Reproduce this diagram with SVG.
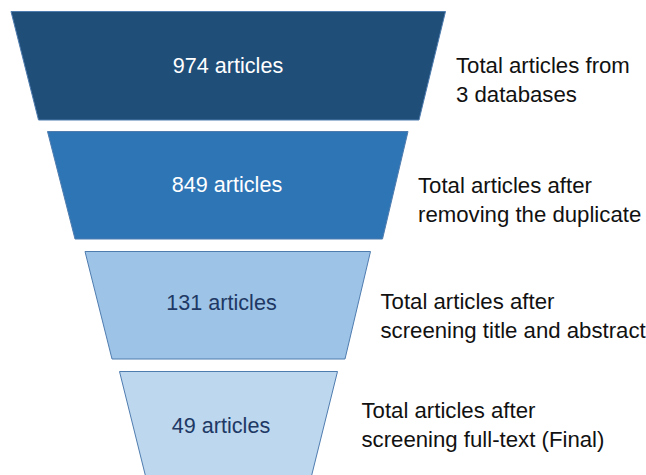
<svg xmlns="http://www.w3.org/2000/svg" width="646" height="475" viewBox="0 0 646 475">
  <style>
    .stage { stroke: #4F7CAF; stroke-width: 1; }
    .s1 { fill: #1F4E79; }
    .s2 { fill: #2E75B6; }
    .s3 { fill: #9DC3E6; }
    .s4 { fill: #BDD7EE; }
    .count { font-family: "Liberation Sans", Arial, sans-serif; font-size: 21.6px; text-anchor: middle; }
    .light { fill: #FFFFFF; }
    .dark { fill: #203864; }
    .note { font-family: "Liberation Sans", Arial, sans-serif; font-size: 22.2px; fill: #111111; }
  </style>
  <rect width="646" height="475" fill="#FFFFFF"/>

  <g id="stage-1">
    <polygon class="stage s1" points="11,11.5 445.5,11.5 419,120 38.5,120"/>
    <text class="count light" x="228" y="73">974 articles</text>
  </g>

  <g id="stage-2">
    <polygon class="stage s2" points="47.5,131.5 408,131.5 382.5,239 75,239"/>
    <text class="count light" x="227" y="192">849 articles</text>
  </g>

  <g id="stage-3">
    <polygon class="stage s3" points="85,251.5 370.5,251.5 345,359 112,359"/>
    <text class="count dark" x="221.5" y="310">131 articles</text>
  </g>

  <g id="stage-4">
    <polygon class="stage s4" points="119.5,371.5 337.5,371.5 310.5,480 146.5,480"/>
    <text class="count dark" x="221" y="432.5">49 articles</text>
  </g>

  <g id="notes">
    <text class="note" x="456" y="73">Total articles from</text>
    <text class="note" x="456" y="101.5">3 databases</text>
    <text class="note" x="418" y="192.5">Total articles after</text>
    <text class="note" x="418" y="221.5">removing the duplicate</text>
    <text class="note" x="380.5" y="309">Total articles after</text>
    <text class="note" x="380.5" y="337.5">screening title and abstract</text>
    <text class="note" x="361.5" y="418">Total articles after</text>
    <text class="note" x="361.5" y="447">screening full-text (Final)</text>
  </g>
</svg>
